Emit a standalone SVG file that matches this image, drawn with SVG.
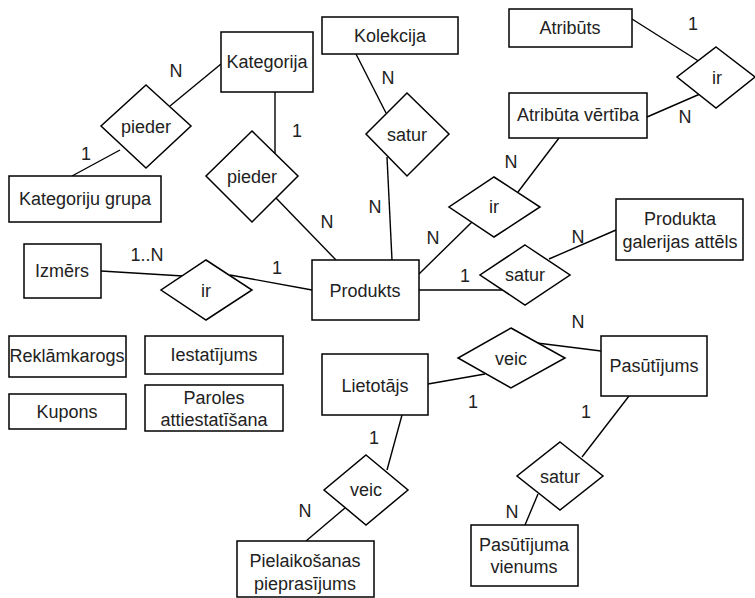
<svg xmlns="http://www.w3.org/2000/svg" width="755" height="598" viewBox="0 0 755 598">
<style>
.e{fill:#fff;stroke:#000;stroke-width:1.5}
.r{fill:#fff;stroke:#000;stroke-width:1.5}
.c line{stroke:#000;stroke-width:1.4}
text{font-family:"Liberation Sans",Arial,sans-serif;font-size:18px;fill:#222;text-anchor:middle;dominant-baseline:central}
</style>
<rect width="755" height="598" fill="#fff"/>
<g class="c" id="connectors">
<line x1="221" y1="64" x2="170" y2="106"/>
<line x1="120" y1="150" x2="72" y2="176"/>
<line x1="275" y1="92" x2="275" y2="154"/>
<line x1="276" y1="198" x2="336" y2="260"/>
<line x1="356" y1="54" x2="386" y2="113"/>
<line x1="387" y1="157" x2="392" y2="260"/>
<line x1="632" y1="19" x2="700" y2="62"/>
<line x1="700" y1="94" x2="647" y2="117"/>
<line x1="559" y1="138" x2="518" y2="192"/>
<line x1="472" y1="222" x2="419" y2="274"/>
<line x1="549" y1="259" x2="616" y2="230"/>
<line x1="419" y1="290" x2="502" y2="290"/>
<line x1="101" y1="271" x2="183" y2="276"/>
<line x1="230" y1="275" x2="312" y2="290"/>
<line x1="428" y1="384" x2="485" y2="374"/>
<line x1="537" y1="343" x2="601" y2="351"/>
<line x1="629" y1="396" x2="582" y2="457"/>
<line x1="538" y1="494" x2="525" y2="525"/>
<line x1="402" y1="415" x2="387" y2="470"/>
<line x1="345" y1="508" x2="306" y2="541"/>
</g>
<g id="labels">
<text x="176" y="71">N</text>
<text x="86" y="154">1</text>
<text x="297" y="131">1</text>
<text x="327" y="222">N</text>
<text x="388" y="78">N</text>
<text x="375" y="207">N</text>
<text x="693" y="24">1</text>
<text x="685" y="117">N</text>
<text x="511" y="162">N</text>
<text x="433" y="238">N</text>
<text x="578" y="237">N</text>
<text x="465" y="276">1</text>
<text x="147" y="255">1..N</text>
<text x="277" y="268">1</text>
<text x="473" y="402">1</text>
<text x="578" y="322">N</text>
<text x="586" y="412">1</text>
<text x="512" y="512">N</text>
<text x="374" y="438">1</text>
<text x="305" y="511">N</text>
</g>
<g id="kategorija"><rect class="e" x="221" y="32" width="92" height="60"/><text x="267" y="62">Kategorija</text></g>
<g id="pieder1"><polygon class="r" points="146,85 191,126 146,168 101,126"/><text x="146" y="127">pieder</text></g>
<g id="kategoriju-grupa"><rect class="e" x="9" y="176" width="152" height="46"/><text x="85" y="199">Kategoriju grupa</text></g>
<g id="pieder2"><polygon class="r" points="252,131 298,176 252,222 206,176"/><text x="252" y="177">pieder</text></g>
<g id="kolekcija"><rect class="e" x="322" y="17" width="136" height="37"/><text x="390" y="36">Kolekcija</text></g>
<g id="satur1"><polygon class="r" points="407,93 449,134 407,176 366,134"/><text x="407" y="135">satur</text></g>
<g id="atributs"><rect class="e" x="509" y="9" width="123" height="38"/><text x="570" y="28">Atribūts</text></g>
<g id="ir-atr"><polygon class="r" points="716,47 755,77 716,108 677,77"/><text x="717" y="78">ir</text></g>
<g id="atributa-vertiba"><rect class="e" x="509" y="93" width="138" height="45"/><text x="578" y="115">Atribūta vērtība</text></g>
<g id="ir-prod"><polygon class="r" points="494,177 540,207 494,237 449,207"/><text x="494" y="207">ir</text></g>
<g id="produkta-galerijas"><rect class="e" x="616" y="199" width="127" height="61"/><text x="680" y="219">Produkta</text><text x="680" y="242">galerijas attēls</text></g>
<g id="satur2"><polygon class="r" points="525,245 570,275 525,305 480,275"/><text x="525" y="275">satur</text></g>
<g id="produkts"><rect class="e" x="312" y="260" width="107" height="60"/><text x="365" y="291">Produkts</text></g>
<g id="izmers"><rect class="e" x="24" y="244" width="77" height="54"/><text x="62" y="271">Izmērs</text></g>
<g id="ir-izm"><polygon class="r" points="206,260 252,290 206,320 161,290"/><text x="206" y="291">ir</text></g>
<g id="reklamkarogs"><rect class="e" x="9" y="336" width="117" height="41"/><text x="67" y="356">Reklāmkarogs</text></g>
<g id="iestatijums"><rect class="e" x="145" y="336" width="138" height="38"/><text x="214" y="355">Iestatījums</text></g>
<g id="kupons"><rect class="e" x="9" y="394" width="117" height="35"/><text x="67" y="412">Kupons</text></g>
<g id="paroles"><rect class="e" x="145" y="385" width="138" height="46"/><text x="214" y="398">Paroles</text><text x="214" y="420">attiestatīšana</text></g>
<g id="lietotajs"><rect class="e" x="322" y="354" width="106" height="61"/><text x="375" y="386">Lietotājs</text></g>
<g id="veic1"><polygon class="r" points="511,328 565,358 511,388 458,358"/><text x="511" y="359">veic</text></g>
<g id="pasutijums"><rect class="e" x="601" y="336" width="106" height="60"/><text x="654" y="366">Pasūtījums</text></g>
<g id="satur3"><polygon class="r" points="560,442 603,476 560,510 517,476"/><text x="560" y="477">satur</text></g>
<g id="pasutijuma-vienums"><rect class="e" x="471" y="525" width="107" height="61"/><text x="524" y="545">Pasūtījuma</text><text x="524" y="567">vienums</text></g>
<g id="veic2"><polygon class="r" points="366,455 408,490 366,525 324,490"/><text x="366" y="490">veic</text></g>
<g id="pielaikosanas"><rect class="e" x="237" y="541" width="137" height="56"/><text x="305" y="561">Pielaikošanas</text><text x="305" y="584">pieprasījums</text></g>
</svg>
